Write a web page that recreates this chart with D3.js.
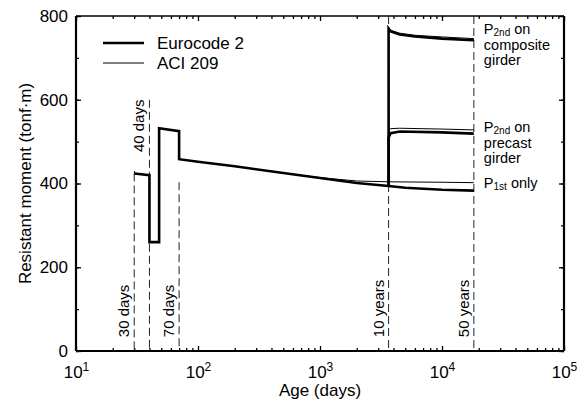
<!DOCTYPE html>
<html>
<head>
<meta charset="utf-8">
<script src="https://cdn.jsdelivr.net/npm/d3@7"></script>
<style>
  body { margin: 0; background: #fff; }
  svg { font-family: "Liberation Sans", Arial, sans-serif; }
</style>
</head>
<body>
<svg id="chart" width="587" height="408"></svg>
<script>
// ---- data (age in days, resistant moment in tonf·m) ----
var euroEarly = [[30,424],[40,420],[40,260],[48,260],[48,532],[70,525],[70,458],[100,452],[200,441],[500,425],[1000,413],[2000,401],[3650,394]];
var aciEarly  = [[30,430],[30.4,424],[40,420],[40,260],[48,260],[48,532],[70,525],[70,458],[100,452],[200,441],[500,425],[1000,414],[2000,406],[3650,404]];

var euroP1st = [[3650,394],[5000,390],[10000,385],[18250,383]];
var aciP1st  = [[3650,404],[10000,403],[18250,402]];

var euroPrecast = [[3650,394],[3650,510],[3800,520],[4500,524],[10000,522],[18250,519]];
var aciPrecast  = [[3650,404],[3650,527],[3800,531],[4500,532],[10000,530],[18250,528]];

var euroComposite = [[3650,394],[3650,770],[3800,763],[4500,756],[6000,751],[10000,746],[18250,742]];
var aciComposite  = [[3650,404],[3650,772],[3800,766],[4500,759],[6000,754],[10000,750],[18250,746]];

// stage markers
var markerDays   = [30, 40, 70, 3650, 18250];
var markerTops   = [424, 600, 403, 800, 800];
var markerLabels = ['30 days', '40 days', '70 days', '10 years', '50 years'];
var markerLabelAt = [33, 475, 33, 33, 33];

var yTicks = [0, 200, 400, 600, 800];
var xTicks = [10, 100, 1000, 10000, 100000];

var svg = d3.select('#chart');
var margin = {top: 16, right: 23, bottom: 57, left: 76};
var W = 587, H = 408;
var w = W - margin.left - margin.right;
var h = H - margin.top - margin.bottom;

var g = svg.append('g').attr('transform', 'translate(' + margin.left + ',' + margin.top + ')');

var x = d3.scaleLog().domain([10, 100000]).range([0, w]);
var y = d3.scaleLinear().domain([0, 800]).range([h, 0]);

// minor ticks
var xMinor = [];
for (var e = 1; e < 5; e++) {
	for (var k = 2; k < 10; k++) xMinor.push(k * Math.pow(10, e));
}
var yMinor = d3.range(0, 801, 100);

function noLabels(sel) { sel.selectAll('text').remove(); sel.select('.domain').remove(); }

g.append('g').attr('transform', 'translate(0,' + h + ')')
	.call(d3.axisBottom(x).tickValues(xMinor).tickSize(-3).tickFormat(''))
	.call(noLabels);
g.append('g')
	.call(d3.axisTop(x).tickValues(xMinor).tickSize(-3).tickFormat(''))
	.call(noLabels);
g.append('g')
	.call(d3.axisLeft(y).tickValues(yMinor).tickSize(-3).tickFormat(''))
	.call(noLabels);
g.append('g').attr('transform', 'translate(' + w + ',0)')
	.call(d3.axisRight(y).tickValues(yMinor).tickSize(-3).tickFormat(''))
	.call(noLabels);

// major ticks
var xb = g.append('g').attr('transform', 'translate(0,' + h + ')')
	.call(d3.axisBottom(x).tickValues(xTicks).tickSize(-5).tickPadding(9).tickFormat(''));
xb.select('.domain').remove();
xb.selectAll('.tick text').each(function(d) {
	var t = d3.select(this).attr('font-size', 17).attr('fill', '#000').attr('dy', '1.05em');
	t.append('tspan').text('10');
	t.append('tspan').attr('font-size', 12).attr('dy', '-0.55em').text(Math.round(Math.log10(d)));
});
g.append('g').call(d3.axisTop(x).tickValues(xTicks).tickSize(-5).tickFormat('')).call(noLabels);

var yl = g.append('g')
	.call(d3.axisLeft(y).tickValues(yTicks).tickSize(-5).tickPadding(8));
yl.select('.domain').remove();
yl.selectAll('.tick text').attr('font-size', 17).attr('fill', '#000').attr('font-family', null);
g.append('g').attr('transform', 'translate(' + w + ',0)')
	.call(d3.axisRight(y).tickValues(yTicks).tickSize(-5).tickFormat('')).call(noLabels);

g.selectAll('.tick line').attr('stroke', '#000').attr('stroke-width', 1.3);

// frame
g.append('line').attr('x1', 0).attr('x2', w).attr('y1', 0).attr('y2', 0).attr('stroke', '#000').attr('stroke-width', 1.5);
g.append('line').attr('x1', 0).attr('x2', w).attr('y1', h).attr('y2', h).attr('stroke', '#000').attr('stroke-width', 2.2);
g.append('line').attr('x1', 0).attr('x2', 0).attr('y1', 0).attr('y2', h).attr('stroke', '#000').attr('stroke-width', 2.2);
g.append('line').attr('x1', w).attr('x2', w).attr('y1', 0).attr('y2', h).attr('stroke', '#000').attr('stroke-width', 2.2);

// stage markers
markerDays.forEach(function(d, i) {
	g.append('line')
		.attr('x1', x(d)).attr('x2', x(d))
		.attr('y1', y(markerTops[i])).attr('y2', h)
		.attr('stroke', '#222').attr('stroke-width', 1)
		.attr('stroke-dasharray', '8,4');
	var tx = x(d) - 5, ty = y(markerLabelAt[i]);
	g.append('text')
		.attr('transform', 'translate(' + tx + ',' + ty + ') rotate(-90)')
		.attr('font-size', 15)
		.text(markerLabels[i]);
});

// curves
var line = d3.line().x(function(d) { return x(d[0]); }).y(function(d) { return y(d[1]); });

function drawCurve(data, width) {
	g.append('path').datum(data)
		.attr('d', line)
		.attr('fill', 'none')
		.attr('stroke', '#000')
		.attr('stroke-width', width)
		.attr('stroke-linejoin', 'miter');
}

[euroEarly, euroP1st, euroPrecast, euroComposite].forEach(function(s) { drawCurve(s, 2.6); });
[aciEarly, aciP1st, aciPrecast, aciComposite].forEach(function(s) { drawCurve(s, 1); });

// right-hand labels, one text per line
var labelX = x(18250) + 10;
function label(lines, yTop) {
	lines.forEach(function(l, i) {
		var t = g.append('text').attr('font-size', 14.5).attr('x', labelX)
			.attr('y', yTop + i * 15 + (i > 0 ? 1 : 0));
		if (typeof l === 'string') t.text(l);
		else {
			t.append('tspan').text(l[0]);
			t.append('tspan').attr('font-size', 10).attr('dy', 2).text(l[1]);
			t.append('tspan').attr('dy', -2).text(l[2]);
		}
	});
}
label([['P', '2nd', ' on'], 'composite', 'girder'], 18);
label([['P', '2nd', ' on'], 'precast', 'girder'], 116);
label([['P', '1st', ' only']], 172);

// legend
var legend = [['Eurocode 2', 2.6], ['ACI 209', 1]];
legend.forEach(function(l, i) {
	var ly = 27 + i * 20;
	g.append('line').attr('x1', 27).attr('x2', 68).attr('y1', ly).attr('y2', ly)
		.attr('stroke', '#000').attr('stroke-width', l[1]);
	g.append('text').attr('x', 81).attr('y', ly + 6).attr('font-size', 17).text(l[0]);
});

// axis titles
svg.append('text')
	.attr('transform', 'translate(31,' + (margin.top + h / 2) + ') rotate(-90)')
	.attr('text-anchor', 'middle').attr('font-size', 17)
	.text('Resistant moment (tonf\u00b7m)');
svg.append('text')
	.attr('x', margin.left + w / 2).attr('y', 396)
	.attr('text-anchor', 'middle').attr('font-size', 17)
	.text('Age (days)');
</script>
</body>
</html>
